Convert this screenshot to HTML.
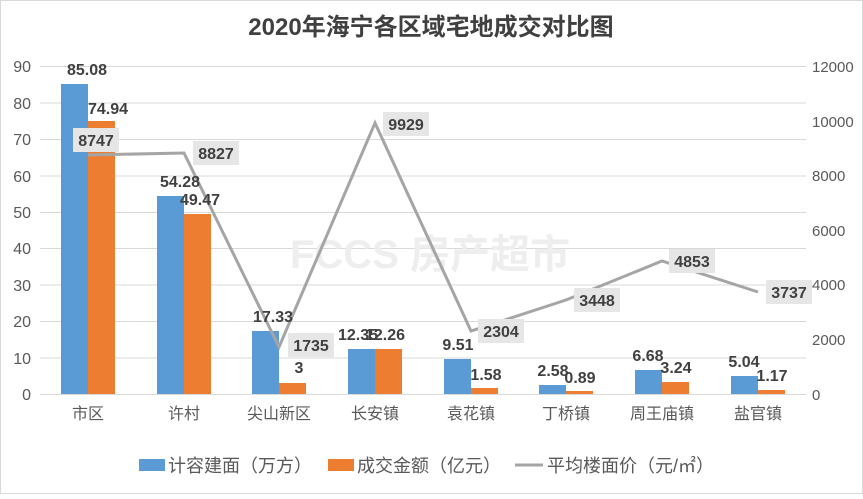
<!DOCTYPE html>
<html><head><meta charset="utf-8"><style>
body{margin:0;background:#fff}
text{font-family:"Liberation Sans","Noto Sans CJK SC",sans-serif}
</style></head><body>
<svg width="863" height="494" viewBox="0 0 863 494" xmlns="http://www.w3.org/2000/svg">
<rect x="0.5" y="0.5" width="862" height="493" fill="#fff" stroke="#d9d9d9"/>
<text x="431" y="35" text-anchor="middle" font-size="24" font-weight="bold" fill="#404040">2020年海宁各区域宅地成交对比图</text>
<g stroke="#d9d9d9" stroke-width="1">
<line x1="40" x2="806" y1="66.5" y2="66.5"/><line x1="40" x2="806" y1="103" y2="103"/>
<line x1="40" x2="806" y1="139.5" y2="139.5"/><line x1="40" x2="806" y1="176" y2="176"/>
<line x1="40" x2="806" y1="212.5" y2="212.5"/><line x1="40" x2="806" y1="248.5" y2="248.5"/>
<line x1="40" x2="806" y1="285" y2="285"/><line x1="40" x2="806" y1="321.5" y2="321.5"/>
<line x1="40" x2="806" y1="358" y2="358"/><line x1="40" x2="806" y1="394.5" y2="394.5"/>
</g>
<g font-size="16" fill="#595959" text-anchor="end">
<text x="31" y="72">90</text><text x="31" y="109">80</text><text x="31" y="145">70</text><text x="31" y="182">60</text><text x="31" y="218">50</text><text x="31" y="254">40</text><text x="31" y="291">30</text><text x="31" y="327">20</text><text x="31" y="364">10</text><text x="31" y="400">0</text>
</g>
<g font-size="15" fill="#595959" text-anchor="start">
<text x="812" y="72">12000</text><text x="812" y="127">10000</text><text x="812" y="181">8000</text><text x="812" y="236">6000</text><text x="812" y="290">4000</text><text x="812" y="345">2000</text><text x="812" y="400">0</text>
</g>
<text x="430" y="268" text-anchor="middle" font-size="40" font-weight="bold" fill="#eeeeee">FCCS 房产超市</text>
<g id="bars">
<rect x="61" y="84" width="27" height="310" fill="#5b9bd5"/><rect x="88" y="121" width="27" height="273" fill="#ed7d31"/>
<rect x="157" y="196" width="27" height="198" fill="#5b9bd5"/><rect x="184" y="214" width="27" height="180" fill="#ed7d31"/>
<rect x="252" y="331" width="27" height="63" fill="#5b9bd5"/><rect x="279" y="383" width="27" height="11" fill="#ed7d31"/>
<rect x="348" y="349" width="27" height="45" fill="#5b9bd5"/><rect x="375" y="349" width="27" height="45" fill="#ed7d31"/>
<rect x="444" y="359" width="27" height="35" fill="#5b9bd5"/><rect x="471" y="388" width="27" height="6" fill="#ed7d31"/>
<rect x="539" y="385" width="27" height="9" fill="#5b9bd5"/><rect x="566" y="391" width="27" height="3" fill="#ed7d31"/>
<rect x="635" y="370" width="27" height="24" fill="#5b9bd5"/><rect x="662" y="382" width="27" height="12" fill="#ed7d31"/>
<rect x="731" y="376" width="27" height="18" fill="#5b9bd5"/><rect x="758" y="390" width="27" height="4" fill="#ed7d31"/>
</g>
<line x1="40" x2="806" y1="394.5" y2="394.5" stroke="#d9d9d9"/>
<polyline fill="none" stroke="#a5a5a5" stroke-width="3" points="88,155 184,153 279,347 375,123 471,331 566,300 662,261 758,292"/>
<g font-size="16" font-weight="bold" fill="#404040" text-anchor="middle">
<text x="87" y="75">85.08</text><text x="108" y="114">74.94</text>
<text x="180" y="187">54.28</text><text x="200" y="205">49.47</text>
<text x="273" y="322">17.33</text><text x="299" y="373">3</text>
<text x="358" y="340">12.35</text><text x="385" y="340">12.26</text>
<text x="458" y="350">9.51</text><text x="486" y="380">1.58</text>
<text x="553" y="376">2.58</text><text x="580" y="383">0.89</text>
<text x="648" y="361">6.68</text><text x="676" y="373">3.24</text>
<text x="744" y="367">5.04</text><text x="772" y="381">1.17</text>
</g>
<g fill="#e7e6e6">
<rect x="73" y="128" width="46" height="24"/><rect x="193" y="141" width="46" height="24"/>
<rect x="288" y="333" width="46" height="24"/><rect x="383" y="112" width="46" height="24"/>
<rect x="478" y="319" width="46" height="24"/><rect x="574" y="288" width="46" height="24"/>
<rect x="669" y="249" width="46" height="24"/><rect x="766" y="280" width="46" height="24"/>
</g>
<g font-size="16" font-weight="bold" fill="#404040" text-anchor="middle">
<text x="96" y="146">8747</text><text x="216" y="159">8827</text>
<text x="311" y="351">1735</text><text x="406" y="130">9929</text>
<text x="501" y="337">2304</text><text x="597" y="306">3448</text>
<text x="692" y="267">4853</text><text x="789" y="298">3737</text>
</g>
<g font-size="16" fill="#595959" text-anchor="middle">
<text x="88" y="419">市区</text><text x="184" y="419">许村</text><text x="279" y="419">尖山新区</text><text x="375" y="419">长安镇</text><text x="471" y="419">袁花镇</text><text x="566" y="419">丁桥镇</text><text x="662" y="419">周王庙镇</text><text x="758" y="419">盐官镇</text>
</g>
<g font-size="18" fill="#595959">
<rect x="139" y="459" width="26" height="12" fill="#5b9bd5"/><text x="168" y="472">计容建面（万方）</text>
<rect x="328" y="459" width="26" height="12" fill="#ed7d31"/><text x="357" y="472">成交金额（亿元）</text>
<line x1="515" x2="543" y1="465" y2="465" stroke="#a5a5a5" stroke-width="3"/><text x="547" y="472">平均楼面价（元/㎡）</text>
</g>
</svg>
</body></html>
